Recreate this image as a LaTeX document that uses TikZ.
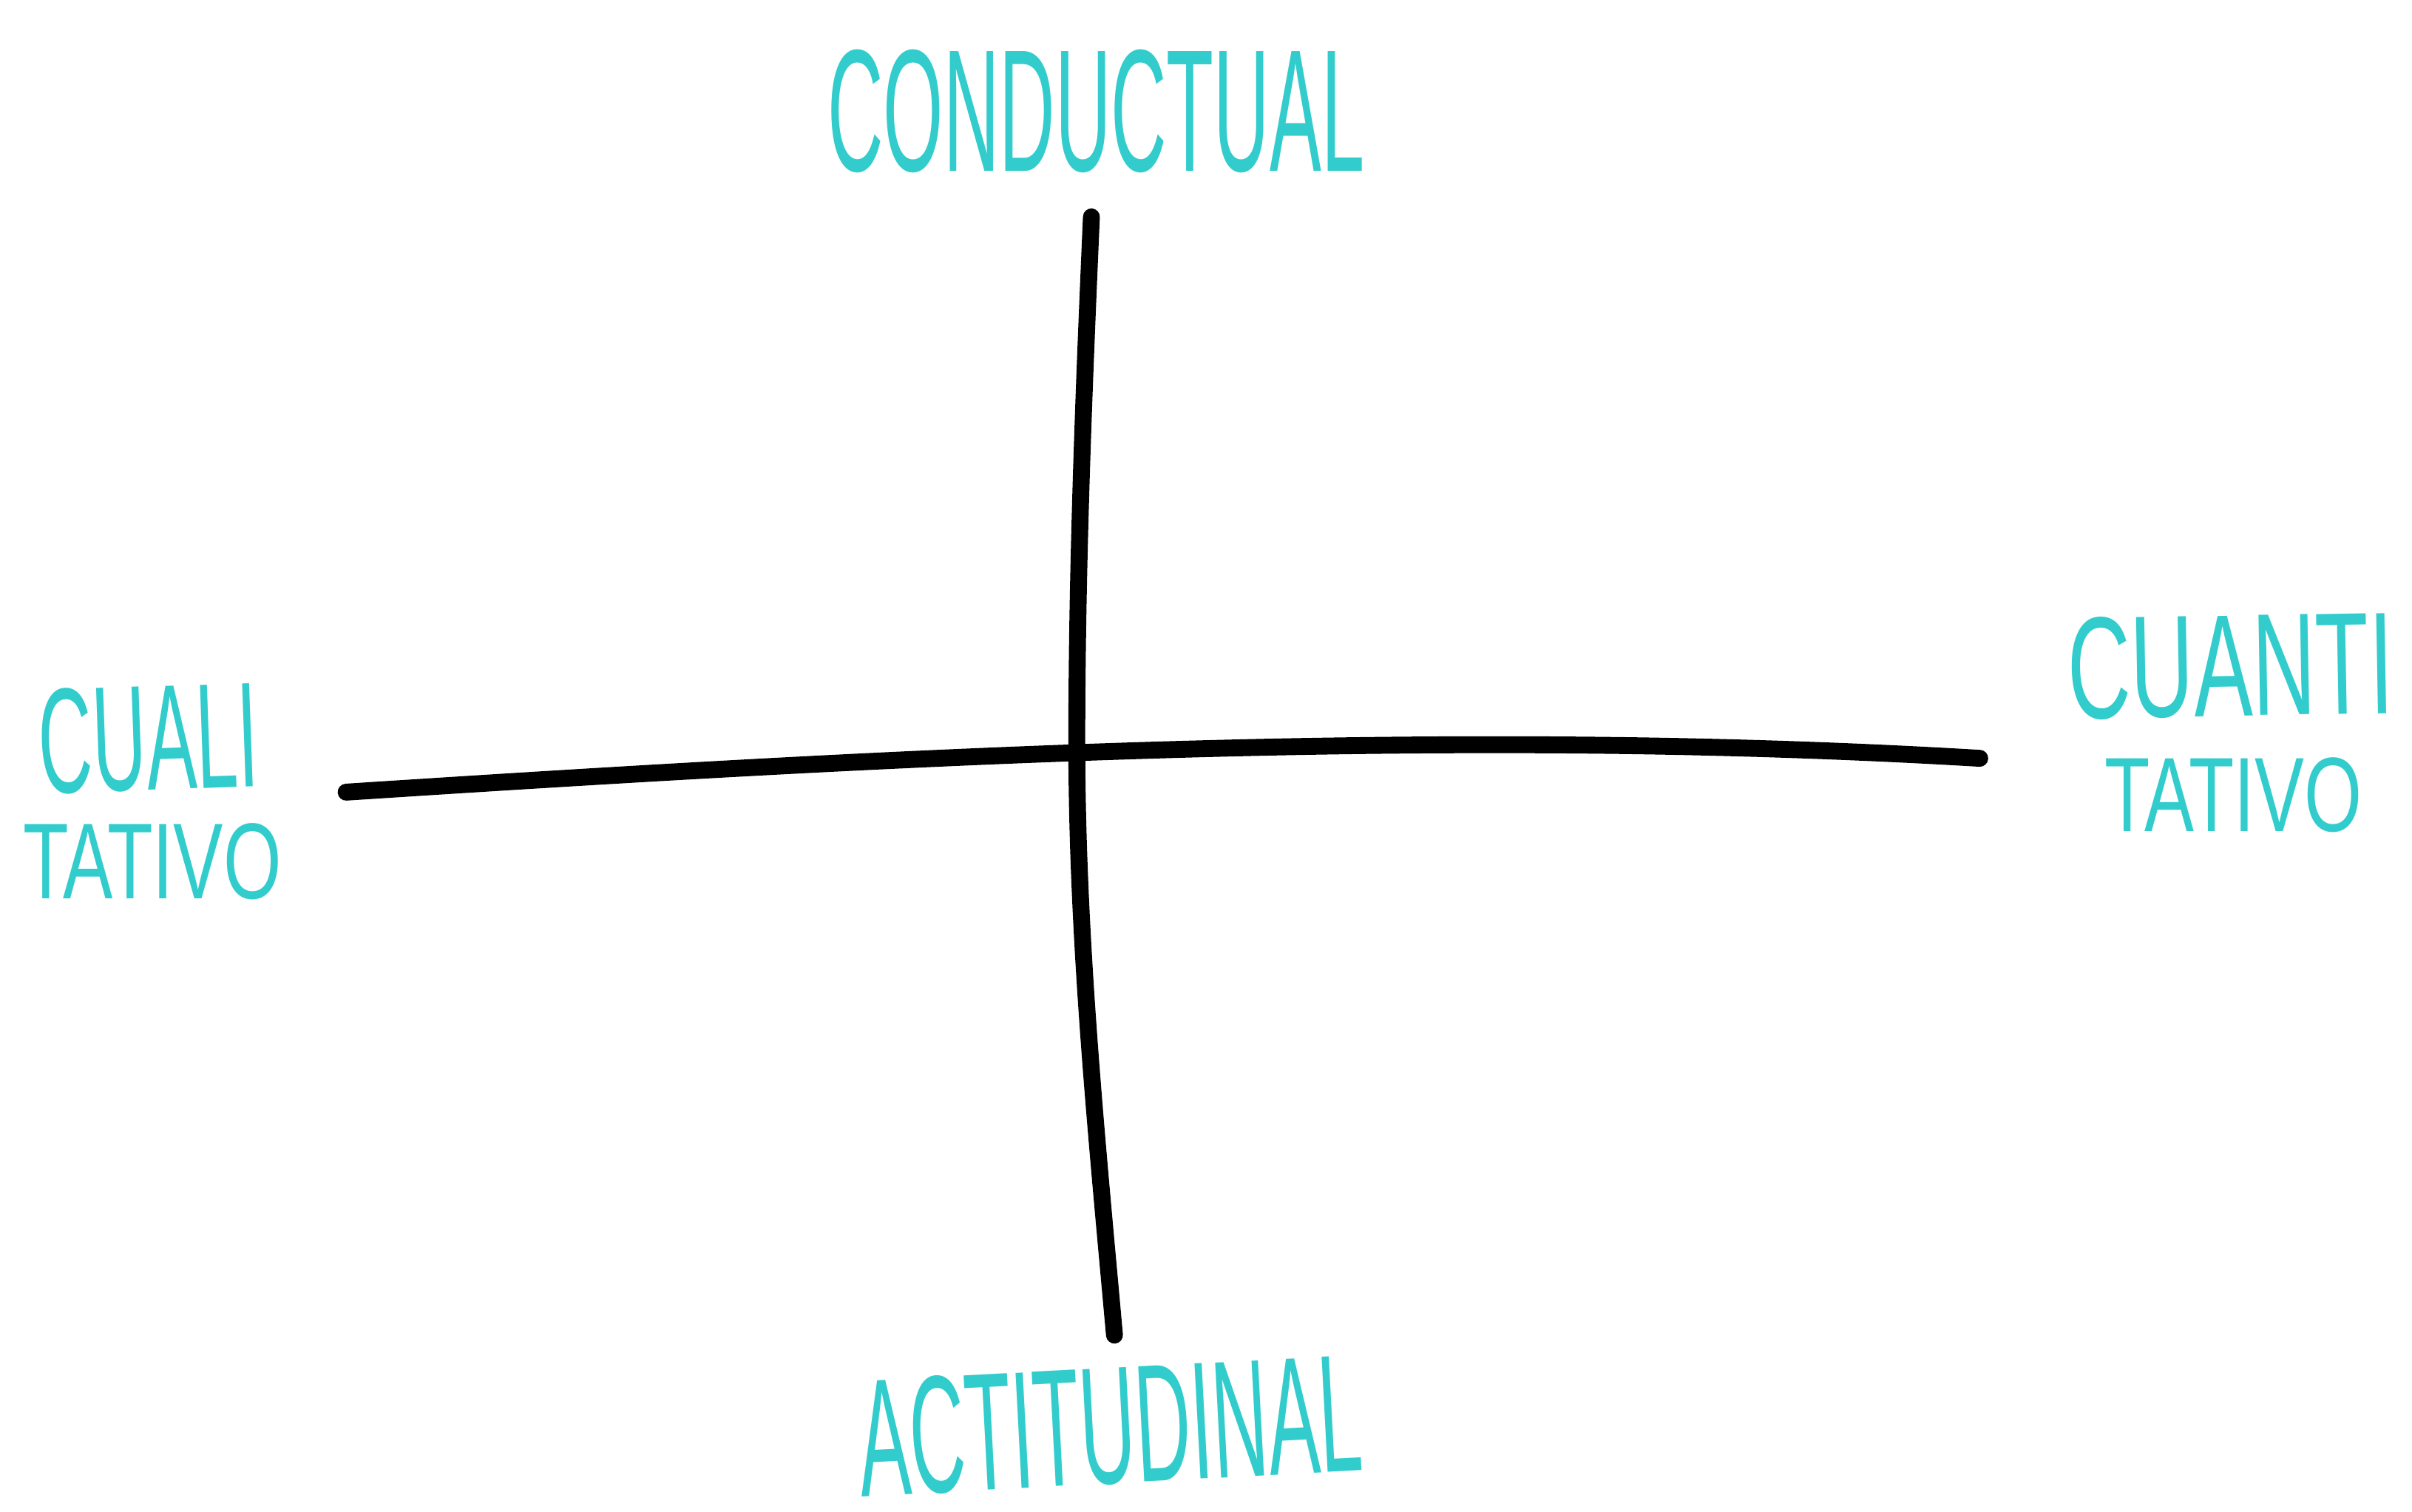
\documentclass[tikz,border=0pt]{standalone}
\usepackage{fontspec}
\usepackage{graphicx}
\newfontfamily\handfont{Liberation Sans}
\definecolor{handteal}{RGB}{51,204,204}
\newlength\pxu
\setlength\pxu{0.020804cm}
\begin{document}
\begin{tikzpicture}[x=0.020804cm,y=-0.020804cm,
  lbl/.style={inner sep=0pt, outer sep=0pt, text=handteal, font=\handfont},
  axisline/.style={line width=6.5pt, line cap=round, draw=black}]
\useasboundingbox (0,0) rectangle (1568,983);
% axes
\coordinate (vtop) at (709.5,141);
\coordinate (vmid) at (700,483);
\coordinate (vbot) at (724.5,868);
\draw[axisline] (vtop) .. controls (704.5,255) and (700,369) .. (vmid)
                       .. controls (700,611) and (713,740) .. (vbot);
\coordinate (hleft) at (225,515);
\coordinate (hright) at (1287,493);
\draw[axisline] (hleft) .. controls (579,492) and (933,472) .. (hright);
% labels
\node[lbl] (cond) at (712.5,72.5) {\resizebox{349\pxu}{79\pxu}{CONDUCTUAL}};
\node[lbl, rotate=2] (cualiA) at (96.5,480) {\resizebox{143\pxu}{68\pxu}{CUALI}};
\node[lbl] (cualiB) at (99,560) {\resizebox{168\pxu}{49\pxu}{TATIVO}};
\node[lbl, rotate=1] (cuantiA) at (1450,433) {\resizebox{212\pxu}{66\pxu}{CUANTI}};
\node[lbl] (cuantiB) at (1452,517) {\resizebox{167\pxu}{48\pxu}{TATIVO}};
\node[lbl, rotate=3] (acti) at (721.5,927) {\resizebox{327\pxu}{76\pxu}{ACTITUDINAL}};
\end{tikzpicture}
\end{document}
